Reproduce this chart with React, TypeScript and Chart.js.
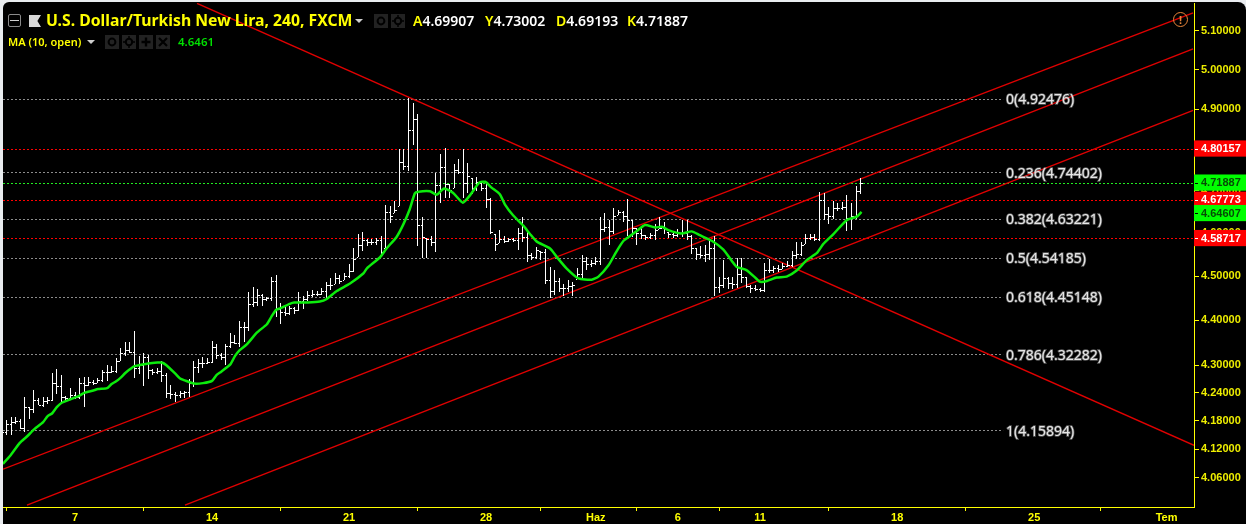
import React, { useEffect, useRef } from "react";
import { Chart, registerables } from "chart.js";

Chart.register(...registerables);

const highs = [
  4.163,4.182,4.188,4.188,4.184,4.230,4.209,4.246,4.228,4.230,
  4.230,4.284,4.291,4.278,4.234,4.250,4.241,4.272,4.274,4.274,
  4.268,4.272,4.289,4.300,4.299,4.315,4.339,4.352,4.352,4.375,
  4.320,4.328,4.322,4.291,4.295,4.310,4.284,4.256,4.242,4.244,
  4.244,4.270,4.309,4.313,4.319,4.317,4.353,4.348,4.326,4.346,
  4.372,4.366,4.399,4.397,4.464,4.476,4.470,4.460,4.453,4.499,
  4.502,4.438,4.432,4.433,4.430,4.464,4.454,4.467,4.468,4.466,
  4.472,4.487,4.496,4.508,4.502,4.508,4.529,4.566,4.598,4.602,
  4.587,4.587,4.588,4.594,4.666,4.663,4.675,4.802,4.802,4.928,
  4.916,4.888,4.637,4.589,4.592,4.742,4.790,4.805,4.716,4.766,
  4.778,4.802,4.768,4.732,4.734,4.720,4.716,4.682,4.598,4.607,
  4.594,4.588,4.589,4.611,4.637,4.602,4.554,4.567,4.557,4.563,
  4.522,4.515,4.495,4.481,4.491,4.486,4.519,4.550,4.544,4.537,
  4.544,4.637,4.647,4.631,4.660,4.655,4.652,4.680,4.631,4.612,
  4.611,4.595,4.600,4.621,4.637,4.625,4.603,4.600,4.609,4.631,
  4.631,4.595,4.565,4.569,4.572,4.584,4.592,4.499,4.537,4.499,
  4.499,4.543,4.543,4.499,4.480,4.480,4.474,4.531,4.540,4.524,
  4.525,4.531,4.535,4.557,4.580,4.578,4.597,4.597,4.597,4.698,
  4.694,4.662,4.677,4.670,4.674,4.690,4.670,4.711,4.730,
];

const lows = [
  4.149,4.149,4.149,4.174,4.163,4.156,4.184,4.196,4.213,4.210,
  4.216,4.223,4.237,4.221,4.221,4.227,4.227,4.227,4.210,4.254,
  4.257,4.261,4.264,4.266,4.284,4.283,4.309,4.320,4.326,4.273,
  4.281,4.255,4.271,4.278,4.281,4.264,4.228,4.227,4.221,4.228,
  4.228,4.230,4.252,4.284,4.293,4.302,4.304,4.313,4.312,4.301,
  4.337,4.346,4.341,4.351,4.376,4.430,4.432,4.433,4.443,4.443,
  4.407,4.391,4.410,4.411,4.414,4.421,4.426,4.443,4.453,4.454,
  4.458,4.445,4.468,4.483,4.483,4.491,4.495,4.510,4.544,4.557,
  4.570,4.573,4.573,4.544,4.564,4.623,4.647,4.664,4.750,4.748,
  4.811,4.569,4.542,4.542,4.569,4.556,4.672,4.684,4.684,4.706,
  4.740,4.684,4.696,4.692,4.700,4.700,4.660,4.598,4.557,4.576,
  4.577,4.579,4.579,4.560,4.580,4.533,4.537,4.540,4.538,4.483,
  4.451,4.457,4.463,4.455,4.463,4.455,4.493,4.495,4.514,4.520,
  4.525,4.525,4.603,4.572,4.597,4.642,4.627,4.592,4.591,4.572,
  4.586,4.584,4.586,4.584,4.609,4.597,4.589,4.589,4.590,4.590,
  4.584,4.551,4.538,4.543,4.533,4.537,4.454,4.461,4.472,4.471,
  4.471,4.472,4.484,4.472,4.461,4.465,4.464,4.464,4.508,4.508,
  4.509,4.517,4.520,4.522,4.540,4.547,4.574,4.584,4.582,4.582,
  4.631,4.621,4.634,4.652,4.655,4.606,4.608,4.634,4.692,
];

const closes = [
  4.155,4.172,4.178,4.180,4.165,4.209,4.205,4.224,4.214,4.222,
  4.225,4.262,4.255,4.230,4.228,4.235,4.232,4.262,4.256,4.264,
  4.262,4.268,4.285,4.286,4.288,4.310,4.328,4.334,4.330,4.295,
  4.300,4.318,4.290,4.286,4.288,4.278,4.240,4.238,4.236,4.240,
  4.242,4.262,4.296,4.304,4.306,4.308,4.340,4.322,4.318,4.342,
  4.352,4.350,4.385,4.384,4.436,4.441,4.456,4.448,4.449,4.490,
  4.425,4.418,4.416,4.428,4.422,4.444,4.448,4.458,4.460,4.460,
  4.465,4.480,4.480,4.495,4.490,4.500,4.512,4.540,4.572,4.583,
  4.578,4.580,4.583,4.555,4.650,4.640,4.655,4.770,4.760,4.848,
  4.875,4.620,4.590,4.585,4.580,4.715,4.758,4.716,4.702,4.750,
  4.745,4.720,4.735,4.708,4.722,4.708,4.680,4.602,4.575,4.585,
  4.582,4.585,4.583,4.600,4.590,4.548,4.545,4.560,4.555,4.492,
  4.465,4.490,4.472,4.472,4.478,4.480,4.505,4.535,4.528,4.530,
  4.535,4.610,4.615,4.605,4.640,4.650,4.640,4.630,4.612,4.600,
  4.595,4.590,4.595,4.608,4.612,4.610,4.598,4.595,4.600,4.600,
  4.592,4.565,4.552,4.548,4.552,4.565,4.475,4.480,4.496,4.485,
  4.482,4.505,4.498,4.478,4.472,4.470,4.468,4.515,4.515,4.518,
  4.516,4.524,4.526,4.550,4.552,4.572,4.588,4.590,4.586,4.678,
  4.645,4.640,4.660,4.660,4.662,4.635,4.640,4.699,4.719,
];

const opens = [
  4.152,4.155,4.172,4.178,4.180,4.165,4.209,4.205,4.224,4.214,
  4.222,4.225,4.262,4.255,4.230,4.228,4.235,4.232,4.262,4.256,
  4.264,4.262,4.268,4.285,4.286,4.288,4.310,4.328,4.334,4.330,
  4.295,4.300,4.318,4.290,4.286,4.288,4.278,4.240,4.238,4.236,
  4.240,4.242,4.262,4.296,4.304,4.306,4.308,4.340,4.322,4.318,
  4.342,4.352,4.350,4.385,4.384,4.436,4.441,4.456,4.448,4.449,
  4.490,4.425,4.418,4.416,4.428,4.422,4.444,4.448,4.458,4.460,
  4.460,4.465,4.480,4.483,4.495,4.491,4.500,4.512,4.544,4.572,
  4.583,4.578,4.580,4.583,4.564,4.650,4.647,4.664,4.770,4.760,
  4.848,4.875,4.620,4.589,4.585,4.580,4.715,4.758,4.716,4.706,
  4.750,4.745,4.720,4.732,4.708,4.720,4.708,4.680,4.598,4.576,
  4.585,4.582,4.585,4.583,4.600,4.590,4.548,4.545,4.557,4.555,
  4.492,4.465,4.490,4.472,4.472,4.478,4.493,4.505,4.535,4.528,
  4.530,4.535,4.610,4.615,4.605,4.642,4.650,4.640,4.630,4.612,
  4.600,4.595,4.590,4.595,4.609,4.612,4.603,4.598,4.595,4.600,
  4.600,4.592,4.565,4.552,4.548,4.552,4.565,4.475,4.480,4.496,
  4.485,4.482,4.505,4.498,4.478,4.472,4.470,4.468,4.515,4.515,
  4.518,4.517,4.524,4.526,4.550,4.552,4.574,4.588,4.590,4.586,
  4.678,4.645,4.640,4.660,4.660,4.662,4.635,4.640,4.699,
];

const maIndex = [
  0.2,1.8,3.9,5.4,7.1,9,10,11,12,13,15,17,18,20,21,23,24,25,26,27,28,29,30,32,34,35,36,38,39,40,42,44,46,47,48,50,51,52,53.6,55.8,
  58,59,60,61,63,64,67,69.6,71.1,73.3,76.2,79.1,79.9,82.8,84.2,86.4,87.9,89.3,90.4,91.2,93.7,95.2,96.8,98.8,100.9,102.5,104.5,105.8,107.2,109,
  110.1,111.9,114.2,115.6,117.1,120,121.5,123.6,126.2,129.1,130.6,132.8,134.6,136.1,137.5,139,140.8,143,144.5,145.9,148.8,151,152.8,155.4,157.9,159.8,160.9,163,165.3,166,
  167.5,169.6,171.8,174,176.2,178.4,179.8,182,185,187.2,188.2,
];

const maValues = [
  4.089,4.106,4.133,4.146,4.162,4.177,4.190,4.196,4.209,4.218,4.226,4.234,4.240,4.245,4.248,4.250,4.259,4.265,4.273,4.283,4.291,4.298,4.300,4.304,4.306,4.306,4.300,4.281,4.271,4.267,4.260,4.261,4.266,4.279,4.286,4.302,4.320,4.333,4.346,4.372,
  4.391,4.408,4.423,4.427,4.437,4.440,4.440,4.442,4.448,4.466,4.483,4.506,4.518,4.544,4.564,4.591,4.621,4.657,4.694,4.698,4.699,4.691,4.706,4.695,4.672,4.690,4.720,4.722,4.708,4.692,
  4.668,4.642,4.617,4.598,4.580,4.564,4.544,4.518,4.495,4.492,4.499,4.525,4.558,4.582,4.593,4.605,4.619,4.613,4.615,4.607,4.599,4.604,4.595,4.582,4.562,4.535,4.521,4.514,4.493,4.487,
  4.489,4.497,4.499,4.513,4.537,4.553,4.574,4.597,4.631,4.639,4.650,
];

const xTickIndex = [16, 46, 76, 106, 130, 148, 166, 196, 226, 255];
const xTickLabels = ["7", "14", "21", "28", "Haz", "6", "11", "18", "25", "Tem"];
const yTickValues = [5.1, 5.0, 4.9, 4.8, 4.7, 4.6, 4.5, 4.4, 4.3, 4.24, 4.18, 4.12, 4.06];

const fibLevels = ["0", "0.236", "0.382", "0.5", "0.618", "0.786", "1"];
const fibPrices = [4.92476, 4.74402, 4.63221, 4.54185, 4.45148, 4.32282, 4.15894];

const redPrices = [4.80157, 4.67773, 4.58717];
const greenPrices = [4.71887, 4.64607];

const trendX = [
  [42.7, 261],
  [0.22, 260.8],
  [5.47, 260.8],
  [40.07, 260.8],
];
const trendY = [
  [5.172, 4.128],
  [4.078, 5.147],
  [4.004, 5.0535],
  [4.004, 4.897],
];

const X_MIN = 0.22;
const X_MAX = 261;
const FIB_END = 219.2;

function tickImage(side: "left" | "right") {
  const c = document.createElement("canvas");
  c.width = 5;
  c.height = 1;
  const g = c.getContext("2d")!;
  g.fillStyle = "#ffffff";
  if (side === "left") g.fillRect(1, 0, 1, 1);
  else g.fillRect(3, 0, 2, 1);
  return c;
}

const snapPlugin = {
  id: "snapPlugin",
  afterDatasetsUpdate(chart: any) {
    chart.data.datasets.forEach((ds: any, i: number) => {
      if (!ds.snap) return;
      const meta = chart.getDatasetMeta(i);
      meta.data.forEach((el: any) => {
        if (ds.snap === "bar") {
          el.x = Math.floor(el.x) + 0.5;
          el.y = Math.round(el.y);
          el.base = Math.round(el.base);
          el.height = el.base - el.y;
        } else if (ds.snap === "point") {
          el.x = Math.floor(el.x) + 0.5;
          el.y = Math.round(el.y) + 0.5;
        } else if (ds.snap === "hline") {
          el.y = Math.floor(el.y) + 0.5;
        }
      });
    });
  },
};

const fibLabelPlugin = {
  id: "fibLabelPlugin",
  afterDatasetsDraw(chart: any) {
    const { ctx, scales } = chart;
    ctx.save();
    ctx.font = '14px "Noto Sans"';
    ctx.textBaseline = "middle";
    ctx.textAlign = "left";
    fibLevels.forEach((lvl, i) => {
      const y = scales.y.getPixelForValue(fibPrices[i]) + 1;
      const text = `${lvl}(${fibPrices[i].toFixed(5)})`;
      ctx.lineWidth = 1.5;
      ctx.strokeStyle = "rgba(170,170,170,0.55)";
      ctx.strokeText(text, 1006, y);
      ctx.fillStyle = "#e6e6e6";
      ctx.fillText(text, 1006, y);
    });
    ctx.restore();
  },
  afterDraw(chart: any) {
    const { ctx, scales, chartArea } = chart;
    ctx.save();
    ctx.lineWidth = 1;
    const mark = (p: number, color: string) => {
      const y = Math.floor(scales.y.getPixelForValue(p)) + 0.5;
      ctx.strokeStyle = color;
      ctx.beginPath();
      ctx.moveTo(chartArea.right + 1, y);
      ctx.lineTo(chartArea.right + 4, y);
      ctx.stroke();
    };
    redPrices.forEach((p) => mark(p, "#ffffff"));
    greenPrices.forEach((p) => mark(p, "#000000"));
    ctx.restore();
  },
};

const labelFont = '"Noto Sans", sans-serif';

function Abs(props: { x: number; y: number; c?: string; size?: number; w?: number; children: React.ReactNode }) {
  return (
    <span
      style={{
        position: "absolute",
        left: props.x,
        top: props.y,
        color: props.c ?? "#ffff00",
        fontSize: props.size ?? 15,
        fontWeight: props.w ?? 600,
        fontFamily: labelFont,
        whiteSpace: "nowrap",
        lineHeight: "18px",
      }}
    >
      {props.children}
    </span>
  );
}

function Tri(props: { x: number; y: number }) {
  return (
    <span
      style={{
        position: "absolute",
        left: props.x,
        top: props.y,
        width: 8,
        height: 4,
        background: "#cfcfcf",
        clipPath: "polygon(0 0,100% 0,50% 100%)",
      }}
    />
  );
}

function Icon(props: { x: number; y: number; s?: number; kind: "eye" | "gear" | "plus" | "x" }) {
  const s = props.s ?? 14;
  return (
    <svg
      width={s}
      height={s}
      viewBox="0 0 14 14"
      style={{ position: "absolute", left: props.x, top: props.y, background: "#222222" }}
    >
      {props.kind === "eye" && <circle cx="7" cy="7" r="3.4" fill="none" stroke="#000" strokeWidth="2" />}
      {props.kind === "gear" && (
        <g>
          <circle cx="7" cy="7" r="3.2" fill="none" stroke="#000" strokeWidth="2" />
          <path d="M7 1v3M7 10v3M1 7h3M10 7h3" stroke="#000" strokeWidth="1.5" />
        </g>
      )}
      {props.kind === "plus" && <path d="M7 2.5v9M2.5 7h9" stroke="#000" strokeWidth="2.4" />}
      {props.kind === "x" && <path d="M3 3l8 8M11 3l-8 8" stroke="#000" strokeWidth="2.2" />}
    </svg>
  );
}

export default function App() {
  const ref = useRef<HTMLCanvasElement | null>(null);

  useEffect(() => {
    document.body.style.margin = "0";
    document.body.style.background = "#e9ecef";
    document.body.style.overflow = "hidden";
    const hline = (p: number, x1: number, color: string) => ({
      type: "line",
      data: [
        { x: X_MIN, y: p },
        { x: x1, y: p },
      ],
      borderColor: color,
      borderWidth: 1,
      borderDash: [2, 2],
      pointRadius: 0,
      order: 5,
      snap: "hline",
    });
    const highlight: Record<string, string> = {};
    redPrices.forEach((p) => (highlight[p.toFixed(5)] = "#ff0000"));
    greenPrices.forEach((p) => (highlight[p.toFixed(5)] = "#00ff00"));

    const chart = new Chart(ref.current!, {
      type: "bar",
      plugins: [snapPlugin, fibLabelPlugin],
      data: {
        datasets: [
          {
            type: "line",
            label: "MA (10, open)",
            data: maIndex.map((x, i) => ({ x, y: maValues[i] })),
            borderColor: "#0cec0c",
            borderWidth: 2.5,
            tension: 0.2,
            pointRadius: 0,
            order: 0,
          },
          {
            type: "scatter",
            label: "open",
            data: opens.map((y, x) => ({ x, y })),
            pointStyle: tickImage("left"),
            pointRadius: 1,
            order: 1,
            snap: "point",
          },
          {
            type: "scatter",
            label: "close",
            data: closes.map((y, x) => ({ x, y })),
            pointStyle: tickImage("right"),
            pointRadius: 1,
            order: 1,
            snap: "point",
          },
          {
            type: "bar",
            label: "USD/TRY",
            data: highs.map((h, x) => ({ x, y: [lows[x], h] })),
            backgroundColor: "#ffffff",
            barThickness: 1,
            borderWidth: 0,
            inflateAmount: 0,
            order: 2,
            snap: "bar",
          },
          ...trendX.map((xs, k) => ({
            type: "line",
            data: [
              { x: xs[0], y: trendY[k][0] },
              { x: xs[1], y: trendY[k][1] },
            ],
            borderColor: "#e00000",
            borderWidth: 1.4,
            pointRadius: 0,
            order: 3,
          })),
          ...fibPrices.map((p) => hline(p, FIB_END, "#8c8c8c")),
          ...redPrices.map((p) => hline(p, X_MAX, "#ff0000")),
          hline(greenPrices[0], X_MAX, "#22ee22"),
        ] as any,
      },
      options: {
        animation: false,
        responsive: false,
        devicePixelRatio: 1,
        layout: { autoPadding: false, padding: { left: 3, top: 3, right: 0, bottom: 0 } },
        plugins: { legend: { display: false }, tooltip: { enabled: false } },
        scales: {
          x: {
            type: "linear",
            min: X_MIN,
            max: X_MAX,
            offset: false,
            position: "bottom",
            grid: { display: true, drawOnChartArea: false, drawTicks: true, tickLength: 4, tickColor: "#ffff00", color: "#ffff00" },
            border: { display: true, color: "#ffff00", width: 1 },
            afterBuildTicks: (axis: any) => {
              axis.ticks = xTickIndex.map((value) => ({ value }));
            },
            afterFit: (axis: any) => {
              axis.height = 17;
              axis.paddingLeft = 0;
              axis.paddingRight = 0;
            },
            ticks: {
              autoSkip: false,
              maxRotation: 0,
              minRotation: 0,
              padding: 0,
              color: "#ffff00",
              font: { family: "Liberation Sans", size: 11, weight: "bold" },
              callback: (_v: any, i: number) => xTickLabels[i],
            },
          },
          y: {
            type: "logarithmic",
            position: "right",
            min: 4.003,
            max: 5.173,
            grid: {
              display: true,
              drawOnChartArea: false,
              drawTicks: true,
              tickLength: 5,
              color: "#ffff00",
              tickColor: (ctx: any) => (ctx.tick && highlight[ctx.tick.value.toFixed(5)] ? "rgba(0,0,0,0)" : "#ffff00"),
            },
            border: { display: true, color: "#ffff00", width: 1 },
            afterBuildTicks: (axis: any) => {
              const extra = [...greenPrices, ...redPrices].sort((a, b) => b - a);
              axis.ticks = [...yTickValues, ...extra].map((value) => ({ value }));
            },
            afterFit: (axis: any) => {
              axis.width = 52;
              axis.paddingTop = 0;
              axis.paddingBottom = 0;
            },
            ticks: {
              autoSkip: false,
              padding: 2,
              font: { family: "Liberation Sans", size: 11, weight: "bold" },
              color: (ctx: any) => {
                const h = ctx.tick && highlight[ctx.tick.value.toFixed(5)];
                return h === "#ff0000" ? "#ffffff" : h === "#00ff00" ? "#064b06" : "#eeee00";
              },
              showLabelBackdrop: (ctx: any) => !!(ctx.tick && highlight[ctx.tick.value.toFixed(5)]),
              backdropColor: (ctx: any) => (ctx.tick && highlight[ctx.tick.value.toFixed(5)]) || "rgba(0,0,0,0)",
              backdropPadding: { left: 7, right: 6, top: 2, bottom: 1 },
              callback: (v: any) => Number(v).toFixed(5),
            },
          },
        },
      } as any,
    });
    return () => chart.destroy();
  }, []);

  return (
    <div style={{ position: "relative", width: 1246, height: 524, overflow: "hidden" }}>
      <div
        style={{
          position: "absolute",
          left: 3,
          top: 2,
          width: 1243,
          height: 522,
          background: "#000",
          borderRadius: "6px 8px 0 0",
        }}
      />
      <canvas ref={ref} width={1246} height={524} style={{ position: "absolute", left: 0, top: 0, display: "block" }} />

      <span style={{ position: "absolute", left: 8, top: 14, width: 11, height: 11, border: "1px solid #8a8a8a", borderRadius: 2 }} />
      <span style={{ position: "absolute", left: 10, top: 20, width: 9, height: 1, background: "#cfcfcf" }} />
      <span
        style={{
          position: "absolute",
          left: 29,
          top: 15,
          width: 12,
          height: 12,
          background: "#d8d8d8",
          clipPath: "polygon(0 0,100% 0,70% 50%,100% 100%,0 100%)",
        }}
      />
      <Abs x={46} y={11} size={15.75} w={700}>U.S. Dollar/Turkish New Lira, 240, FXCM</Abs>
      <Tri x={355} y={19} />
      <Icon x={374} y={14} kind="eye" />
      <Icon x={391} y={14} kind="gear" />
      <Abs x={413} y={12} size={14}>A<span style={{ color: "#fff" }}>4.69907</span></Abs>
      <Abs x={485} y={12} size={14}>Y<span style={{ color: "#fff" }}>4.73002</span></Abs>
      <Abs x={556} y={12} size={14}>D<span style={{ color: "#fff" }}>4.69193</span></Abs>
      <Abs x={627} y={12} size={14}>K<span style={{ color: "#fff" }}>4.71887</span></Abs>

      <Abs x={8} y={33} size={11}>MA (10, open)</Abs>
      <Tri x={87} y={40} />
      <Icon x={105} y={35} kind="eye" />
      <Icon x={122} y={35} kind="gear" />
      <Icon x={139} y={35} kind="plus" />
      <Icon x={156} y={35} kind="x" />
      <Abs x={178} y={33} size={11.5} c="#00e000">4.6461</Abs>

      <span
        style={{
          position: "absolute",
          left: 1173,
          top: 12,
          width: 13,
          height: 13,
          border: "1.5px solid #e8853a",
          borderRadius: "50%",
          color: "#e8853a",
          fontFamily: labelFont,
          fontSize: 11,
          fontWeight: 700,
          textAlign: "center",
          lineHeight: "13px",
        }}
      >
        !
      </span>
    </div>
  );
}
